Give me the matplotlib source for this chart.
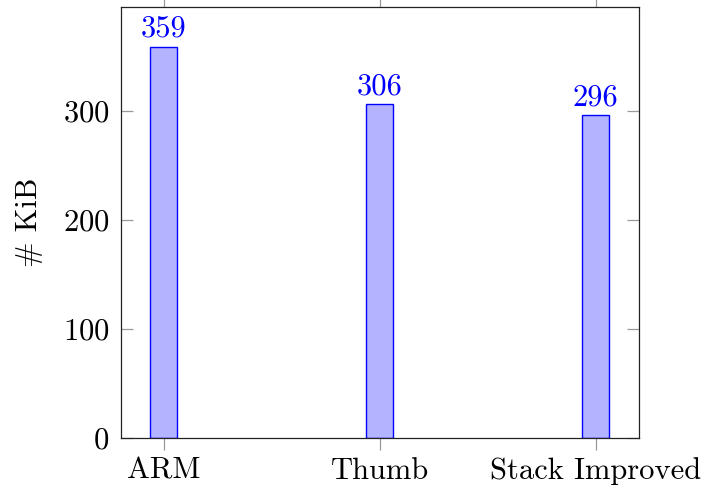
import matplotlib
matplotlib.use("Agg")
import matplotlib.pyplot as plt

# code size per build variant
variants = ["ARM", "Thumb", "Stack Improved"]
sizes_kib = [359, 306, 296]

plt.rcParams['font.family'] = ['cmr10', 'DejaVu Serif']
plt.rcParams['axes.formatter.use_mathtext'] = True
plt.rcParams['mathtext.fontset'] = 'cm'

fig = plt.figure(figsize=(7.02, 4.86), dpi=100)
ax = fig.add_axes([120.7 / 702, 1 - 437.7 / 486, (639 - 120.7) / 702, (437.7 - 7) / 486])

pos = list(range(len(variants)))
bars = ax.bar(pos, sizes_kib, width=0.125, color='#b3b3ff', edgecolor='blue', linewidth=1.0)

for x, v in zip(pos, sizes_kib):
    ax.annotate(str(v), (x, v), xytext=(0, 3), textcoords='offset points',
                ha='center', va='bottom', color='blue', fontsize=22)

ax.set_xlim(-0.2, 2.2)
ax.set_ylim(0, 395.5)
ax.set_xticks(pos)
ax.set_xticklabels(variants)
ax.set_yticks([0, 100, 200, 300])
ax.set_ylabel("# KiB", fontsize=22, labelpad=14)

ax.tick_params(axis='x', direction='out', top=True, length=8.5, width=0.9,
               color='#999999', labelsize=22, pad=5.5)
ax.tick_params(axis='y', direction='in', right=True, length=8.5, width=0.9,
               color='#999999', labelsize=22, pad=8)

for s in ax.spines.values():
    s.set_linewidth(0.9)
    s.set_color('#222222')

fig.savefig("out.png", dpi=100)
